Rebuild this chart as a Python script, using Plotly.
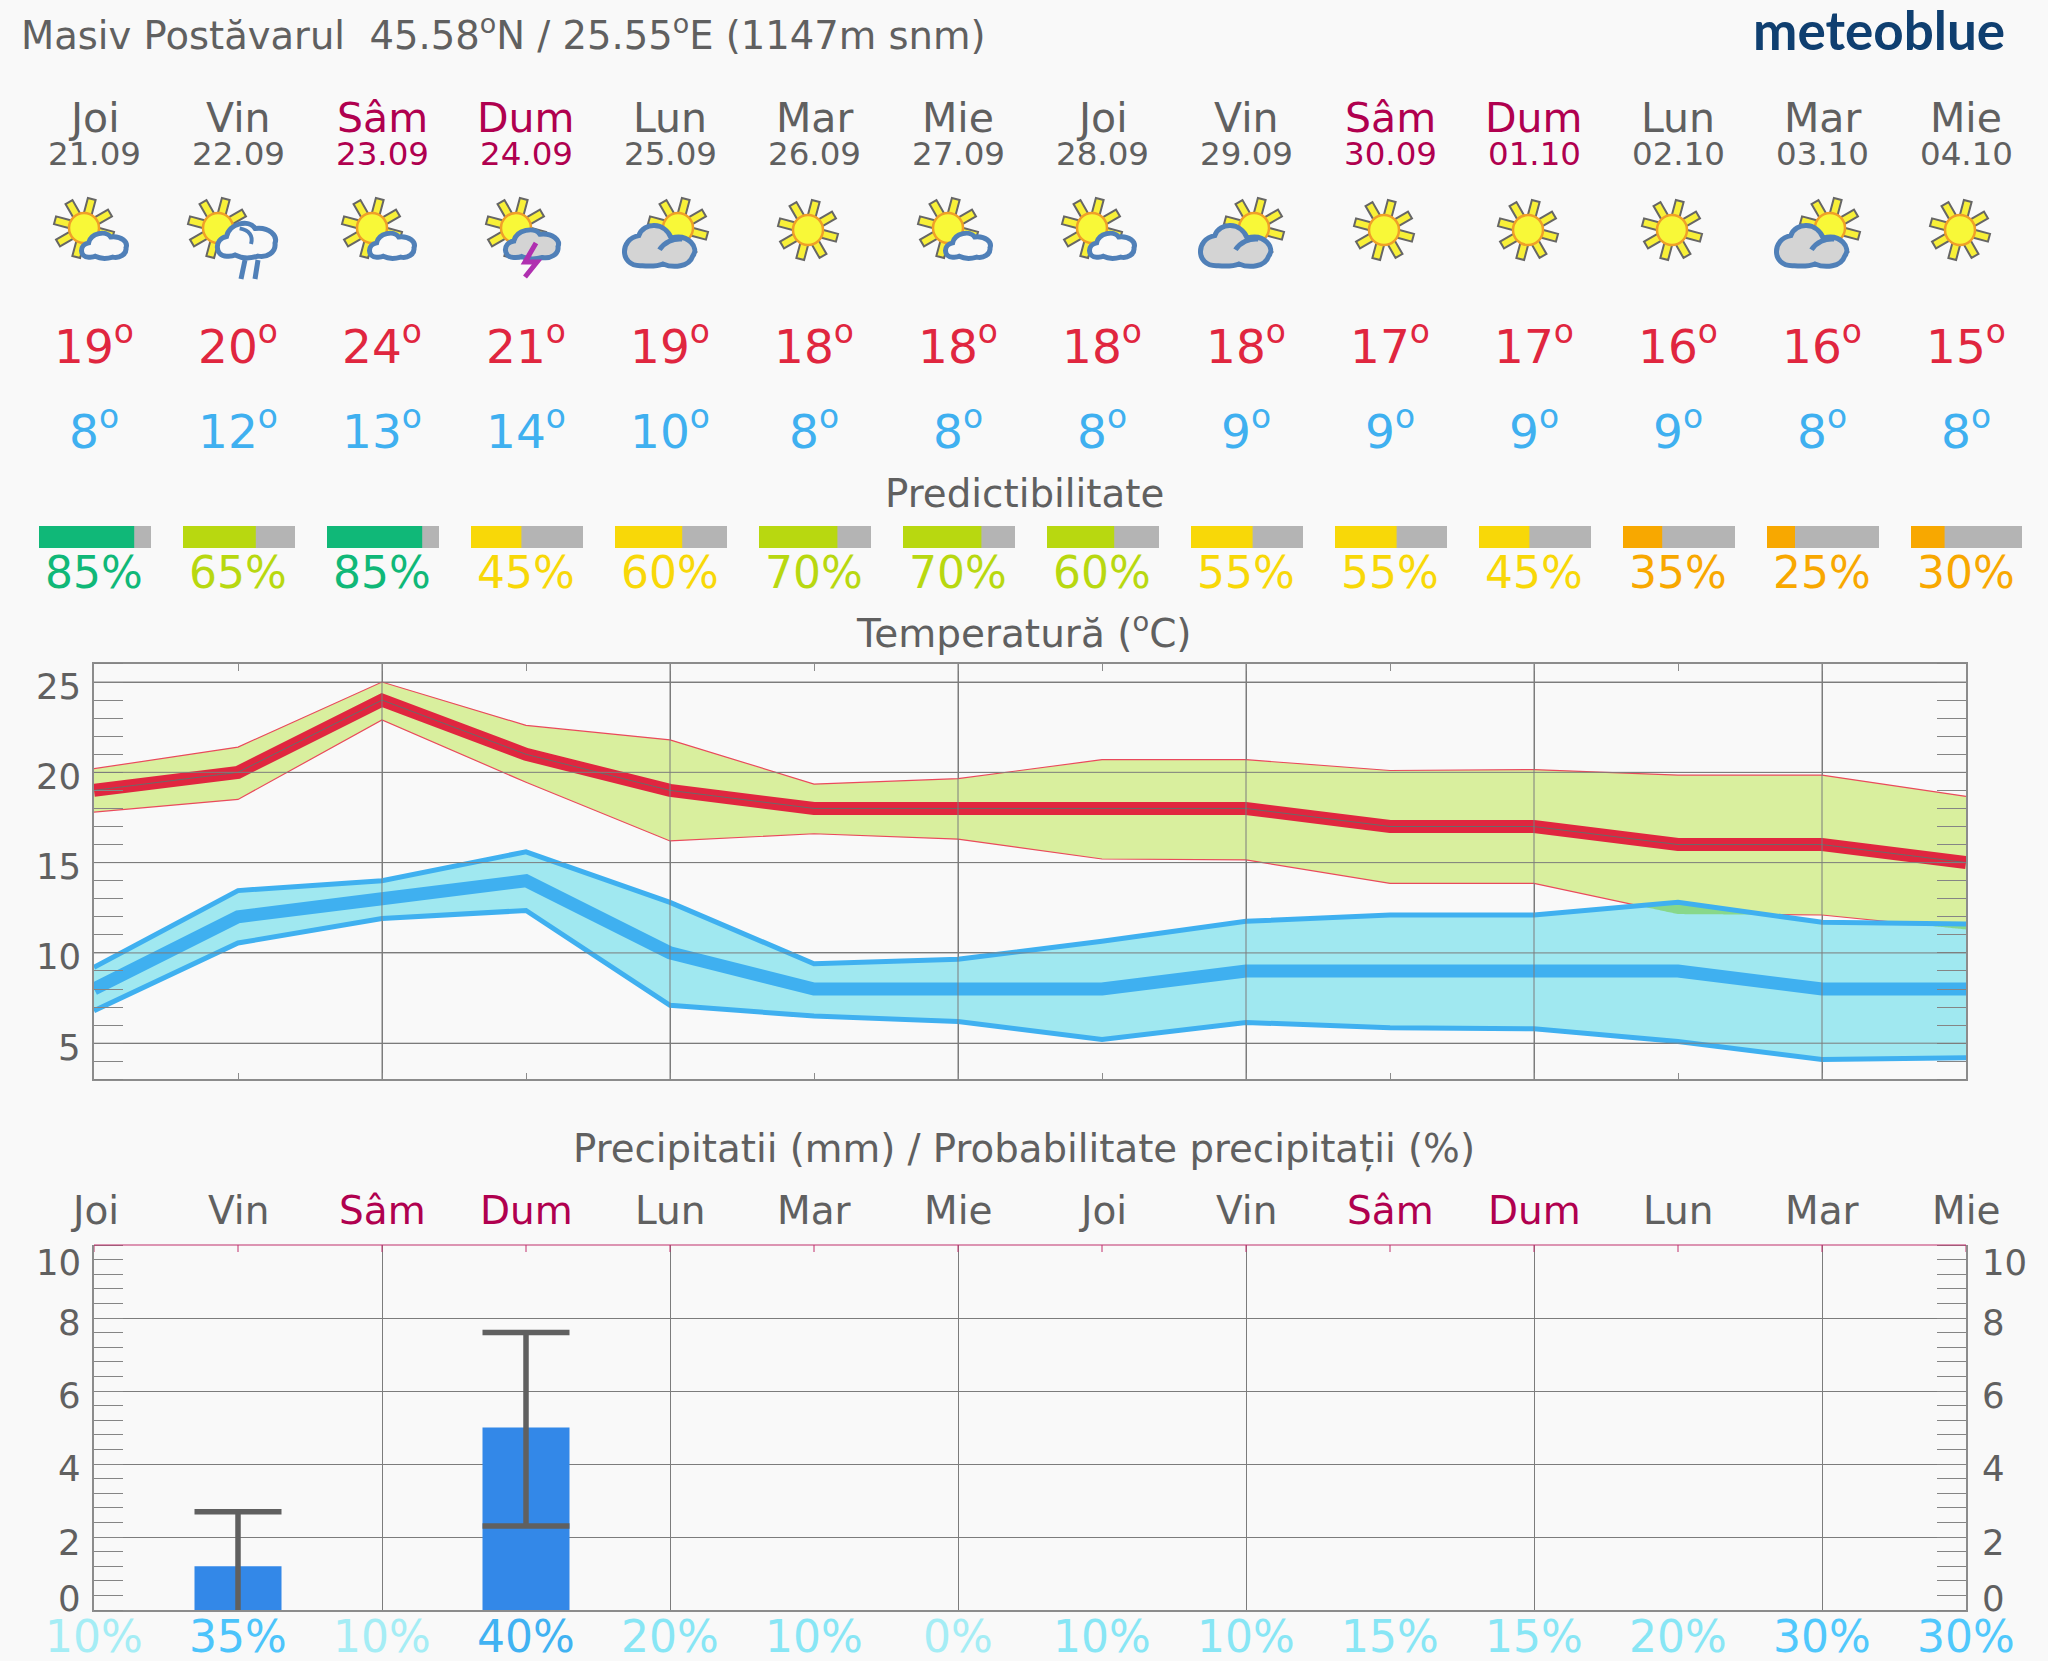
import numpy as np
import plotly.graph_objects as go

W, H = 2048, 1661
day_names = ["Joi","Vin","Sâm","Dum","Lun","Mar","Mie","Joi","Vin","Sâm","Dum","Lun","Mar","Mie"]
dates = ["21.09","22.09","23.09","24.09","25.09","26.09","27.09","28.09","29.09","30.09","01.10","02.10","03.10","04.10"]
weekend = [0,0,1,1,0,0,0,0,0,1,1,0,0,0]
icons = ["A","B","A","C","D","S","A","A","D","S","S","S","D","S"]
t_max = [19,20,24,21,19,18,18,18,18,17,17,16,16,15]
t_min = [8,12,13,14,10,8,8,8,9,9,9,9,8,8]
pred = [85,65,85,45,60,70,70,60,55,55,45,35,25,30]
pred_colors = ["#10b878","#b8d810","#10b878","#f8d808","#f8d808","#b8d810","#b8d810","#b8d810",
               "#f8d808","#f8d808","#f8d808","#f8a800","#f8a800","#f8a800"]
max_hi = [20.2,21.4,25.0,22.6,21.8,19.35,19.65,20.7,20.7,20.1,20.15,19.85,19.85,18.67]
max_lo = [17.8,18.5,22.9,19.45,16.2,16.6,16.3,15.2,15.15,13.85,13.85,12.15,12.1,11.3]
min_hi = [9.2,13.45,14.0,15.6,12.8,9.4,9.65,10.65,11.75,12.1,12.1,12.8,11.7,11.6]
min_lo = [6.8,10.55,11.9,12.35,7.1,6.5,6.2,5.2,6.15,5.85,5.8,5.1,4.1,4.2]
rain = [0,1.2,0,5.0,0,0,0,0,0,0,0,0,0,0]
rain_hi = [0,2.69,0,7.6,0,0,0,0,0,0,0,0,0,0]
rain_lo = [0,-0.3,0,2.3,0,0,0,0,0,0,0,0,0,0]
rain_prob = [10,35,10,40,20,10,0,10,10,15,15,20,30,30]
prob_colors = ["#a5edf5","#4cc4fb","#a5edf5","#40b2f2","#88e6f5","#88e6f5","#a5edf5","#88e6f5",
               "#88e6f5","#88e6f5","#88e6f5","#88e6f5","#50c8fc","#50c8fc"]
temp_ticks = [5,10,15,20,25]
rain_ticks = [0,2,4,6,8,10]
rain_label_shift = [-12,5,4,4,4,17]

GRAY = "#606060"; WEEK = "#b0004f"; RED = "#e0263f"; BLUE = "#3fb0f0"
GRID = "#7c7c7c"; FRAME = "#8c8c8c"; BG = "#f9f9f9"
FONT = "DejaVu Sans"
days = list(range(14))

def fx(px): return px / W
def fy(py): return 1 - py / H

fig = go.Figure()
skip = dict(hoverinfo="skip", showlegend=False)

# Predictability bars
track = 112 / 144
left = [d - track/2 + 1/144 for d in days]
fig.add_trace(go.Bar(x=[track]*14, y=[0]*14, base=left, width=1, orientation="h",
                     marker=dict(color="#b4b4b4", line_width=0), xaxis="x3", yaxis="y3", **skip))
fig.add_trace(go.Bar(x=[track*p/100 for p in pred], y=[0]*14, base=left, width=1,
                     orientation="h", marker=dict(color=pred_colors, line_width=0), xaxis="x3", yaxis="y3", **skip))

# Temperature bands
def band(hi, lo, fill):
    return go.Scatter(x=days+days[::-1], y=hi+lo[::-1], fill="toself", fillcolor=fill, mode="none",
                      xaxis="x", yaxis="y", **skip)
def line(y, color, width):
    return go.Scatter(x=days, y=y, mode="lines", line=dict(color=color, width=width), xaxis="x", yaxis="y", **skip)

fig.add_trace(band(max_hi, max_lo, "#d9ef9e"))
fig.add_trace(line(max_hi, "#ea4a5c", 1.2))
fig.add_trace(line(max_lo, "#ea4a5c", 1.2))
fig.add_trace(band(min_hi, min_lo, "#a0e8f0"))

# overlap of both bands, computed from the band arrays
xs = np.arange(0, 13.0001, 0.01)
top = np.minimum(np.interp(xs, days, max_hi), np.interp(xs, days, min_hi))
bot = np.maximum(np.interp(xs, days, max_lo), np.interp(xs, days, min_lo))
ox, oy = [], []
mask = top > bot
i = 0
while i < len(xs):
    if mask[i]:
        j = i
        while j + 1 < len(xs) and mask[j+1]:
            j += 1
        ox += list(xs[i:j+1]) + list(xs[i:j+1][::-1]) + [None]
        oy += list(top[i:j+1]) + list(bot[i:j+1][::-1]) + [None]
        i = j + 1
    else:
        i += 1
fig.add_trace(go.Scatter(x=ox, y=oy, fill="toself", fillcolor="#88d88a", mode="none", xaxis="x", yaxis="y", **skip))

fig.add_trace(line(min_hi, BLUE, 5))
fig.add_trace(line(min_lo, BLUE, 5))
fig.add_trace(line(t_min, BLUE, 13))
fig.add_trace(line(t_max, RED, 13))
fig.add_trace(line(t_max, "#6a6a6a", 1))

# Precipitation
rain_days = [d for d in days if rain[d] > 0]
fig.add_trace(go.Bar(x=rain_days, y=[rain[d] for d in rain_days], width=87/144,
                     marker=dict(color="#3388e8", line_width=0), xaxis="x2", yaxis="y2",
                     error_y=dict(type="data", symmetric=False,
                                  array=[rain_hi[d]-rain[d] for d in rain_days],
                                  arrayminus=[rain[d]-rain_lo[d] for d in rain_days],
                                  color="#606060", thickness=5.5, width=43.5), **skip))

shapes = []
# temperature grid runs above the bands
for d in range(2, 13, 2):
    shapes.append(dict(type="line", xref="x", yref="y domain", x0=d, x1=d, y0=0, y1=1, layer="above",
                       line=dict(color=GRID, width=1)))
for v in temp_ticks:
    shapes.append(dict(type="line", xref="x domain", yref="y", x0=0, x1=1, y0=v, y1=v, layer="above",
                       line=dict(color=GRID, width=1)))
# precipitation top edge + ticks
shapes.append(dict(type="line", xref="x2 domain", yref="y2 domain", x0=0, x1=1, y0=1, y1=1, layer="above",
                   line=dict(color="#c0306c", width=1.2)))
for d in days:
    shapes.append(dict(type="line", xref="x2", yref="y2 domain", x0=d, x1=d, y0=1, y1=1-7/365, layer="above",
                       line=dict(color="#c0306c", width=1)))

# Icons
def path(cmds):
    out = []
    for c in cmds:
        if isinstance(c, str):
            out.append(c)
        else:
            out.append(f"{fx(c[0]):.6f},{fy(c[1]):.6f}")
    return " ".join(out)

def circle(cx, cy, r):
    k = 0.5523 * r
    return path(["M",(cx+r,cy),"C",(cx+r,cy+k),(cx+k,cy+r),(cx,cy+r),"C",(cx-k,cy+r),(cx-r,cy+k),(cx-r,cy),
                 "C",(cx-r,cy-k),(cx-k,cy-r),(cx,cy-r),"C",(cx+k,cy-r),(cx+r,cy-k),(cx+r,cy),"Z"])

def add_path(p, fill=None, color=None, width=1):
    s = dict(type="path", xref="paper", yref="paper", path=p, layer="above",
             line=dict(color=color or "rgba(0,0,0,0)", width=width))
    if fill:
        s["fillcolor"] = fill
    shapes.append(s)

def sun(cx, cy):
    for k in range(8):
        a = np.radians(15 + 45*k)
        ux, uy = np.sin(a), -np.cos(a)
        nx, ny = -uy, ux
        r0, r1, w = 14, 30, 4.0
        add_path(path(["M",(cx+ux*r0+nx*w,cy+uy*r0+ny*w),"L",(cx+ux*r1+nx*w,cy+uy*r1+ny*w),
                       "L",(cx+ux*r1-nx*w,cy+uy*r1-ny*w),"L",(cx+ux*r0-nx*w,cy+uy*r0-ny*w),"Z"]),
                 "#f8f038", "#666666", 2)
    add_path(circle(cx, cy, 15), "#f8f838", "#f0a028", 2.5)

def cloud_small(x0, y0, w, h, fill):
    P = lambda a, b: (x0 + a*w, y0 + b*h)
    add_path(path(["M",P(.15,.95),"C",P(-.05,.95),P(-.08,.5),P(.15,.42),"C",P(.2,.05),P(.55,-.05),P(.65,.2),
                   "C",P(.9,.15),P(1.05,.4),P(1.0,.6),"C",P(1.02,.85),P(.85,1.0),P(.7,.95),
                   "C",P(.55,1.02),P(.4,1.0),P(.3,.92),"C",P(.25,.96),P(.2,.95),P(.15,.95),"Z"]),
             fill, "#5080b8", 5)
    return P

def cloud_big(x0, y0, w, h):
    P = lambda a, b: (x0 + a*w, y0 + b*h)
    add_path(path(["M",P(.22,.97),"C",P(-.08,.97),P(-.08,.35),P(.2,.27),"C",P(.27,-.05),P(.58,-.05),P(.67,.33),
                   "C",P(.92,.22),P(1.08,.55),P(.98,.75),"C",P(.93,1.0),P(.7,1.03),P(.55,.93),
                   "C",P(.45,1.0),P(.33,.98),P(.22,.97),"Z"]),
             "#d4d4d4", "#5080b8", 5)
    add_path(path(["M",P(.5,.6),"C",P(.57,.42),P(.7,.33),P(.83,.35)]), None, "#5080b8", 5)

for d, kind in zip(days, icons):
    c = 94 + 144*d
    if kind == "S":
        sun(c-6, 230)
    elif kind == "A":
        sun(c-10, 228)
        cloud_small(c-12, 231.5, 44, 27, BG)
    elif kind == "B":
        sun(c-20, 228)
        P = cloud_small(c-20, 221, 57, 37, BG)
        add_path(path(["M",P(.38,.2),"C",P(.55,.25),P(.62,.4),P(.58,.62)]), None, "#5080b8", 4)
        add_path(path(["M",(c+7,260),"L",(c+3,279)]), None, "#5080b8", 5)
        add_path(path(["M",(c+20,260),"L",(c+17,279)]), None, "#5080b8", 5)
    elif kind == "C":
        sun(c-10, 228)
        cloud_small(c-20, 228, 52, 31, "#d4d4d4")
        add_path(path(["M",(c+10,243),"L",(c-1,262),"L",(c+11,262),"L",(c-1,277)]), None, "#b030b0", 5)
    elif kind == "D":
        sun(c+8, 228)
        cloud_big(c-45, 224, 69, 43)

# Text
ann = []
def text(s, x, py, size, color, xref="x3", anchor="center", yref="paper", ysh=0):
    ann.append(dict(text=s, x=x, y=fy(py) if yref == "paper" else py, xref=xref, yref=yref, yshift=ysh,
                    showarrow=False, xanchor=anchor, yanchor="middle",
                    font=dict(family=FONT, size=size, color=color), borderpad=0))

text("Masiv Postăvarul  45.58<sup>o</sup>N / 25.55<sup>o</sup>E (1147m snm)", fx(20), 33.5, 38.5, GRAY, xref="paper", anchor="left")
ann.append(dict(text="<b>meteoblue</b>", x=fx(2007), y=fy(30), xref="paper", yref="paper", showarrow=False,
                xanchor="right", yanchor="middle", font=dict(family="Lato", size=53, color="#0f3f70")))
for d in days:
    col = WEEK if weekend[d] else GRAY
    text(day_names[d], d, 118, 41, col)
    text(dates[d], d, 154, 32.5, col)
    text(f"{t_max[d]}<sup>o</sup>", d, 343, 47, RED)
    text(f"{t_min[d]}<sup>o</sup>", d, 428, 47, BLUE)
    text(f"{pred[d]}%", d, 573, 44, pred_colors[d])
    text(day_names[d], d, 1210, 39, col)
    text(f"{rain_prob[d]}%", d, 1636, 44, prob_colors[d])
text("Predictibilitate", fx(1024), 493, 38.8, GRAY, xref="paper")
text("Temperatură (<sup>o</sup>C)", fx(1024), 631, 39, GRAY, xref="paper")
text("Precipitatii (mm) / Probabilitate precipitații (%)", fx(1024), 1149, 38.7, GRAY, xref="paper")
for v in temp_ticks:
    text(str(v), fx(81.5), v, 35.5, GRAY, xref="paper", anchor="right", yref="y", ysh=-4)
for v, sh in zip(rain_ticks, rain_label_shift):
    text(str(v), fx(81.5), v, 35.5, GRAY, xref="paper", anchor="right", yref="y2", ysh=-sh)
    text(str(v), fx(1981), v, 35.5, GRAY, xref="paper", anchor="left", yref="y2", ysh=-sh)

common_x = dict(range=[0, 13], tickmode="array", tickvals=list(range(2, 13, 2)), showticklabels=False,
                showgrid=True, gridcolor=GRID, gridwidth=1, zeroline=False, showline=True,
                linecolor=FRAME, linewidth=1.5)
fig.update_layout(
    width=W, height=H, margin=dict(l=0, r=0, t=0, b=0, pad=0), autosize=False,
    paper_bgcolor=BG, plot_bgcolor=BG, showlegend=False, hovermode=False, barmode="overlay",
    font=dict(family=FONT, color=GRAY),
    xaxis=dict(domain=[fx(94), fx(1966)], anchor="y", mirror="allticks", ticks="inside", ticklen=7, tickcolor=FRAME,
               minor=dict(tickmode="linear", tick0=0, dtick=1, ticks="inside", ticklen=7, tickcolor=FRAME, showgrid=False),
               **common_x),
    yaxis=dict(domain=[fy(1079.3), fy(664)], anchor="x", range=[3.001, 25.999], tickmode="array", tickvals=temp_ticks,
               showticklabels=False, showgrid=True, gridcolor=GRID, zeroline=False, showline=True,
               linecolor=FRAME, linewidth=1.5, mirror="allticks", ticks="",
               minor=dict(tickmode="linear", tick0=0, dtick=1, ticks="inside", ticklen=29, tickcolor="#858585", showgrid=False)),
    xaxis2=dict(domain=[fx(94), fx(1966)], anchor="y2", ticks="", **common_x),
    yaxis2=dict(domain=[fy(1610), fy(1245)], anchor="x2", range=[0, 10], tickmode="array", tickvals=rain_ticks,
                showticklabels=False, showgrid=True, gridcolor=GRID, zeroline=False, showline=True,
                linecolor=FRAME, linewidth=1.5, mirror="allticks", ticks="",
                minor=dict(tickmode="linear", tick0=0, dtick=0.4, ticks="inside", ticklen=29, tickcolor="#858585", showgrid=False)),
    xaxis3=dict(domain=[fx(38), fx(2022)], anchor="y3", range=[-track/2, 13+track/2], visible=False),
    yaxis3=dict(domain=[fy(548), fy(526)], anchor="x3", range=[-0.5, 0.5], visible=False),
    shapes=shapes, annotations=ann,
)
fig.write_html("out.html", config=dict(displayModeBar=False),
               post_script="document.body.style.margin='0';document.body.style.background='#f9f9f9';")
